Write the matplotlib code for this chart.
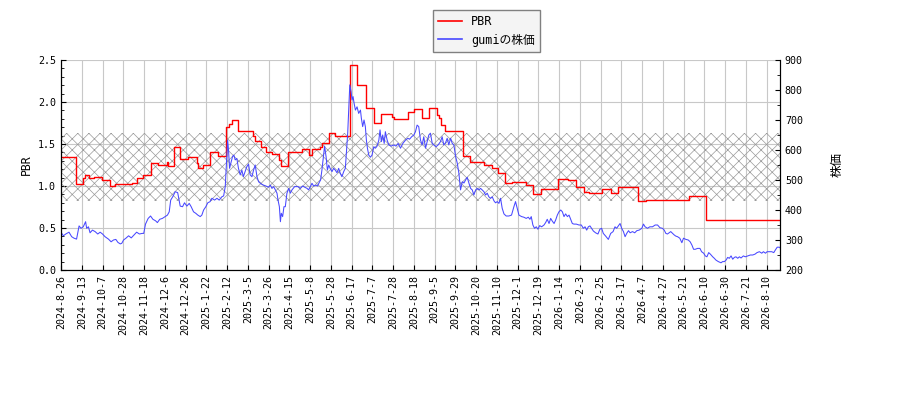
import matplotlib
matplotlib.use("Agg")
import matplotlib.pyplot as plt
from matplotlib.ticker import MultipleLocator, FormatStrFormatter
import numpy as np

# x axis is a trading-day index; one label every 14 days
tick_labels = ["2024-8-26", "2024-9-13", "2024-10-7", "2024-10-28", "2024-11-18",
               "2024-12-6", "2024-12-26", "2025-1-22", "2025-2-12", "2025-3-5",
               "2025-3-26", "2025-4-15", "2025-5-8", "2025-5-28", "2025-6-17",
               "2025-7-7", "2025-7-28", "2025-8-18", "2025-9-5", "2025-9-29",
               "2025-10-20", "2025-11-10", "2025-12-1", "2025-12-19", "2026-1-14",
               "2026-2-3", "2026-2-25", "2026-3-17", "2026-4-7", "2026-4-27",
               "2026-5-21", "2026-6-10", "2026-6-30", "2026-7-21", "2026-8-10"]
last_day = 485

# PBR (step series): day where a level starts, and the level
pbr_x = [0, 10, 15, 16, 19, 22, 27.5, 33, 36.5, 48, 51, 55.5, 61, 65.5, 71.5, 72.5,
         76, 80.5, 86, 91.5, 92.5, 96, 100.6, 106, 111, 113.5, 115.5, 119.7, 129.7, 131,
         135, 138, 142, 147, 148.5, 153, 162.6, 167, 169, 175, 176, 180.5, 185, 190.7,
         195, 200, 205.5, 211, 216, 223.5, 224.5, 234, 238, 243.5, 248, 253.5, 255, 256.5,
         259, 271.5, 276, 285, 291, 294.5, 299.5, 304.5, 313.5, 318.5, 323.5, 335.5, 342,
         347.5, 353, 356, 365, 371, 375.5, 389.5, 394.5, 423.5, 435, 485]
pbr = [1.34, 1.02, 1.10, 1.13, 1.10, 1.11, 1.07, 1.00, 1.02, 1.03, 1.09, 1.13, 1.27, 1.25, 1.29, 1.24,
       1.46, 1.32, 1.34, 1.27, 1.21, 1.25, 1.40, 1.36, 1.70, 1.74, 1.78, 1.65, 1.60, 1.54,
       1.46, 1.41, 1.38, 1.31, 1.24, 1.40, 1.44, 1.37, 1.44, 1.47, 1.51, 1.63, 1.59, 1.60,
       2.44, 2.20, 1.93, 1.75, 1.86, 1.82, 1.80, 1.88, 1.92, 1.81, 1.93, 1.85, 1.81, 1.73,
       1.66, 1.36, 1.28, 1.25, 1.21, 1.15, 1.03, 1.05, 1.01, 0.905, 0.96, 1.08, 1.07,
       0.99, 0.93, 0.92, 0.96, 0.92, 0.99, 0.82, 0.83, 0.88, 0.60, 0.60]

# gumi share price
price_x = [0, 1.6, 3.2, 5.4, 7.2, 8.8, 10.5, 12.2, 13.5, 15, 16.6, 17.3, 18.5, 19.6, 21.2, 23,
           24.8, 26.4, 28, 29.7, 32, 33.8, 35.4, 37, 38.4, 40, 41, 42.2, 43.8, 45.6, 47.4,
           49.3, 51, 52.9, 54.7, 55.8, 57, 58.8, 60.4, 62, 63.8, 65, 66.6, 68.4, 70.2, 71.8,
           73, 74, 75.7, 77, 78.7, 80.4, 82, 83.3, 84.9, 86.5, 87.8, 89.4, 90.9, 92.3, 93.9,
           95, 96.2, 97.7, 99, 100.6, 101.8, 103.6, 105.2, 106.7, 108.5, 109.7, 110.8, 111.5,
           112.4, 113, 113.7, 114.6, 115.7, 116.6, 117.5, 118.6, 119.7, 120.9, 122, 123,
           124.2, 125.3, 126.5, 127.6, 128.8, 129.9, 131, 132.2, 133.3, 135, 136.6, 138.2,
           140, 141.2, 142.3, 143.4, 144.6, 145.7, 146.4, 147.3, 148, 148.6, 149.5, 150.4,
           151.3, 152.4, 153.6, 154.7, 155.8, 157.6, 159.9, 161.4, 163, 164.4, 166, 167,
           168.2, 169.3, 170.4, 172, 173.1, 174.2, 175.1, 176, 177, 177.8, 178.8, 179.7,
           180.6, 181.5, 182.8, 183.9, 185, 186.2, 187.3, 188.4, 189.5, 190.7, 191.8, 192.5,
           193.4, 194.1, 194.8, 195.7, 196.3, 197, 197.7, 198.6, 199.7, 200.8, 202, 202.6,
           203.5, 204.4, 205.3, 206, 206.7, 207.6, 208.7, 209.8, 211, 212.1, 213.2, 214.4,
           215.2, 216.1, 217, 218, 218.8, 220, 221.1, 222.7, 224.5, 226, 227.4, 229, 230.6,
           232.4, 234, 235.1, 236.5, 238, 239.1, 240.2, 241.3, 242.5, 243.6, 244.7, 245.9,
           247, 248.1, 249.2, 250.4, 251.5, 253, 254.4, 256, 257.1, 258.2, 259.4, 260.5,
           261.6, 262.8, 263.9, 265, 266.2, 267.3, 268.4, 269.5, 270.7, 271.8, 272.9, 274,
           275.2, 276.3, 277.4, 278.5, 279.7, 280.8, 281.9, 283, 284.1, 285.3, 286.4, 287.5,
           288.6, 289.8, 290.9, 292, 293.1, 294.3, 295.4, 296.5, 297.6, 298.8, 300.3, 302.1,
           303.9, 305.5, 306.6, 307.8, 308.9, 310.7, 312.2, 313.8, 315.2, 316.3, 317.2, 318.3,
           319.4, 320.6, 321.7, 322.9, 324.2, 325.8, 326.9, 328, 329.2, 330.3, 331.4, 332.6,
           333.7, 334.8, 335.9, 337.1, 338.2, 339.3, 340.4, 341.6, 342.7, 343.8, 344.9, 346,
           347.6, 349.4, 351, 352.3, 353.5, 354.6, 355.7, 356.8, 357.9, 359.1, 360.6, 362.2,
           363.5, 364.7, 365.8, 367.4, 369.2, 370.8, 372.4, 373.7, 374.8, 376.4, 377.1, 378.2,
           379.4, 380.5, 381.6, 382.8, 383.9, 385.5, 387, 388.4, 390, 391.8, 392.9, 394,
           395.6, 397.2, 399, 400.8, 402.4, 404, 405.7, 406.9, 408, 409.1, 410.2, 411.3,
           412.5, 413.6, 414.7, 415.9, 417.4, 418.8, 419.9, 421.5, 423.1, 424.4, 425.6, 426.7,
           427.8, 429.4, 431, 432.1, 433.5, 434.6, 435.7, 436.9, 438, 439.6, 440.7, 441.8,
           443.4, 445.2, 446.3, 447.5, 448.6, 449.7, 450.8, 452, 453.1, 454.2, 455.3, 456.5,
           457.6, 458.7, 460.3, 461.6, 463.2, 465, 466.6, 468.2, 469.5, 471.1, 472.7, 473.8,
           475.2, 476.3, 477.9, 479.4, 480.8, 481.9, 483.1, 484.6, 485]
price = [326, 314, 320, 326, 311, 306, 303, 347, 339, 344, 361, 339, 344, 324, 333, 328,
         320, 326, 320, 311, 303, 294, 300, 302, 292, 287, 289, 300, 306, 314, 307,
         317, 326, 320, 322, 322, 353, 372, 380, 369, 364, 358, 369, 372, 378, 383,
         394, 433, 447, 461, 458, 413, 411, 424, 413, 422, 411, 394, 389, 383, 378,
         383, 400, 411, 424, 428, 439, 433, 439, 433, 444, 447, 478, 544,
         633, 600, 539, 556, 578, 583, 567, 572, 539, 517, 533, 511,
         528, 544, 553, 517, 511, 533, 550, 511, 494, 487, 483, 480,
         476, 483, 472, 478, 467, 456, 433, 411, 361, 389, 378, 411,
         411, 456, 472, 456, 467, 478, 478, 472, 480, 476, 472, 467,
         478, 489, 480, 483, 480, 492, 500, 533, 578, 613, 578, 533,
         550, 539, 528, 539, 533, 524, 539, 522, 511, 528, 539, 589,
         656, 733, 817, 794, 767, 778, 756, 733, 744, 722, 733, 706,
         678, 700, 678, 633, 606, 583, 576, 583, 611, 606, 613, 633,
         667, 628, 650, 622, 661, 633, 617, 613, 617, 613, 622, 606, 622,
         633, 639, 636, 644, 650, 661, 683, 678, 633, 617, 644, 606,
         628, 650, 656, 622, 617, 611, 617, 628, 644, 617, 624, 639,
         617, 639, 622, 617, 578, 556, 522, 467, 494, 490, 500, 509,
         489, 472, 467, 450, 467, 472, 467, 472, 467, 461, 450, 456,
         444, 439, 444, 431, 424, 428, 422, 439, 406, 387, 380, 380,
         383, 411, 428, 404, 383, 378, 376, 372, 376, 369, 378, 350,
         339, 344, 336, 348, 344, 350, 358, 369, 355, 372, 363, 355,
         367, 383, 394, 400, 394, 378, 387, 378, 383, 369, 355, 353,
         353, 350, 350, 339, 344, 333, 344, 347, 339, 330, 324, 320,
         336, 339, 322, 313, 302, 322, 328, 344, 339, 350, 355, 339,
         328, 311, 322, 331, 324, 328, 324, 331, 333, 339, 353, 344,
         339, 344, 344, 350, 350, 341, 339, 333, 322, 320, 324, 328,
         322, 317, 313, 311, 306, 291, 306, 302, 300, 294, 283, 269,
         269, 272, 272, 261, 256, 247, 244, 258, 253, 244, 239, 233,
         228, 224, 228, 228, 233, 242, 239, 247, 236, 242, 244, 239,
         244, 240, 247, 244, 247, 250, 250, 253, 258, 261, 256, 261,
         256, 261, 261, 261, 258, 267, 276, 276, 274]

band_low, band_high = 0.82, 1.63

plt.rcParams['font.family'] = ['DejaVu Sans Mono', 'Noto Sans CJK JP']
plt.rcParams['font.size'] = 7.2
plt.rcParams['hatch.linewidth'] = 0.5

fig = plt.figure(figsize=(9, 4), dpi=100)
ax = fig.add_axes([61/900, 130/400, 719/900, 210/400])
ax2 = ax.twinx()

ax.fill_between([0, last_day], band_low, band_high, facecolor='none',
                edgecolor='#9a9a9a', hatch='xxx', linewidth=0)
l1, = ax.step(pbr_x, pbr, where='post', color='red', lw=1.0, label='PBR')
l2, = ax2.plot(price_x, price, color='#4848ff', lw=0.75, label='gumiの株価')

ax.set_xlim(0, last_day)
ax.set_ylim(0, 2.5)
ax2.set_ylim(200, 900)

ax.set_xticks(np.arange(len(tick_labels)) * 14)
ax.set_xticklabels(tick_labels, rotation=90)
ax.yaxis.set_major_locator(MultipleLocator(0.5))
ax.yaxis.set_minor_locator(MultipleLocator(0.1))
ax.yaxis.set_major_formatter(FormatStrFormatter('%.1f'))
ax2.yaxis.set_major_locator(MultipleLocator(100))
ax2.yaxis.set_minor_locator(MultipleLocator(50))

ax.grid(True, color='#c8c8c8', lw=0.8)
ax.set_axisbelow(True)
for a in (ax, ax2):
    a.tick_params(direction='in', which='both')
    a.spines['top'].set_visible(False)

ax.set_ylabel('PBR', fontsize=8.3)
ax2.set_ylabel('株価', fontsize=9, labelpad=20)

leg = fig.legend([l1, l2], ['PBR', 'gumiの株価'], loc='upper left',
                 bbox_to_anchor=(433/900, 1 - 10/400), borderaxespad=0,
                 fancybox=False, edgecolor='#808080', facecolor='#f4f4f4',
                 framealpha=1, prop={'size': 8.5}, handlelength=2.0,
                 borderpad=0.45, labelspacing=0.45)
for h in leg.get_lines():
    h.set_linewidth(1.2)

fig.savefig('out.png', dpi=100)
